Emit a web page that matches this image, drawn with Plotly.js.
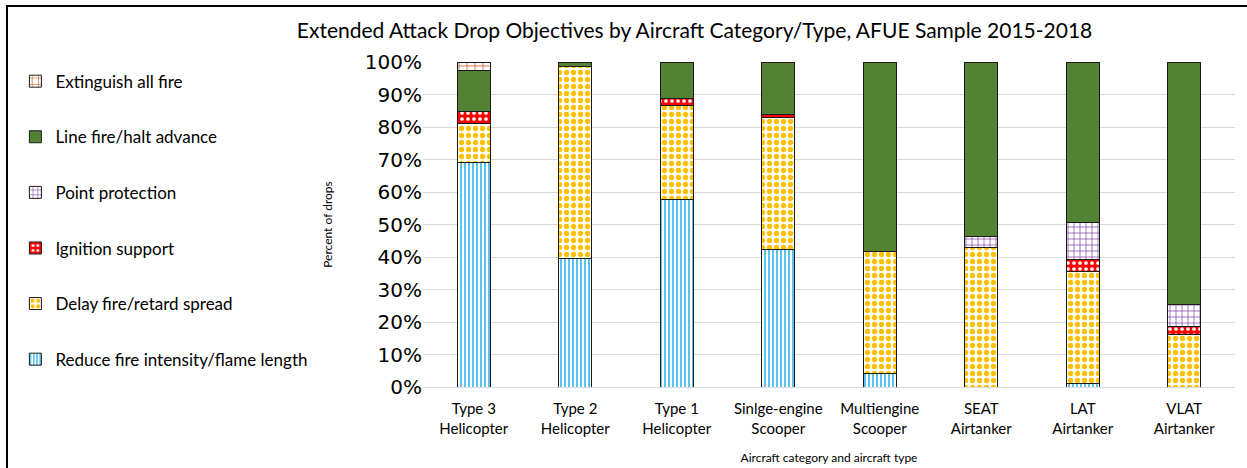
<!DOCTYPE html>
<html>
<head>
<meta charset="utf-8">
<script src="https://cdn.plot.ly/plotly-3.0.1.min.js"></script>
<style>
  html, body { margin: 0; padding: 0; background: #fff; }
  #wrap { position: relative; width: 1247px; height: 468px; }
  #chart { width: 1247px; height: 468px; }
  #frame { position: absolute; left: 6px; top: 5px; right: -4px; bottom: -4px; border-top: 2px solid #000; border-left: 2px solid #000; pointer-events: none; }
</style>
</head>
<body>
<div id="wrap"><div id="chart"></div><div id="frame"></div></div>
<script>
const categories = [
  "Type 3<br>Helicopter", "Type 2<br>Helicopter", "Type 1<br>Helicopter",
  "Sinlge-engine<br>Scooper", "Multiengine<br>Scooper", "SEAT<br>Airtanker",
  "LAT<br>Airtanker", "VLAT<br>Airtanker"
];
const reduceIntensity = [69.2, 39.4, 57.8, 42.2, 4.3, 0, 1.0, 0];
const delayFire       = [12.0, 59.2, 28.8, 40.6, 37.5, 42.8, 34.5, 16.1];
const ignitionSupport = [3.5, 0, 2.2, 0.9, 0, 0, 3.6, 2.6];
const pointProtection = [0, 0, 0, 0, 0, 3.4, 11.4, 6.6];
const lineFire        = [12.6, 1.4, 11.2, 16.3, 58.2, 53.8, 49.5, 74.7];
const extinguishAll   = [2.7, 0, 0, 0, 0, 0, 0, 0];
const yTickVals = [0, 10, 20, 30, 40, 50, 60, 70, 80, 90, 100];
const yTickText = ["0%", "10%", "20%", "30%", "40%", "50%", "60%", "70%", "80%", "90%", "100%"];

const outline = { color: '#1a1a1a', width: 1 };
function mk(name, vals, rank, marker) {
  return { type: 'bar', name: name, x: categories, y: vals, legendgroup: name, legendrank: rank,
           marker: Object.assign({ line: outline }, marker), hoverinfo: 'y+name' };
}
const traces = [
  mk('Reduce fire intensity/flame length', reduceIntensity, 6,
     { color: '#ffffff', pattern: { shape: '|', fgcolor: '#2fb4ea', bgcolor: '#ffffff', size: 4, solidity: 0.4 } }),
  mk('Delay fire/retard spread', delayFire, 5,
     { color: '#ffffff', pattern: { shape: '.', fgcolor: '#ffc000', bgcolor: '#ffffff', size: 7, solidity: 0.45 } }),
  mk('Ignition support', ignitionSupport, 4,
     { color: '#ff0000', pattern: { shape: '.', fgcolor: '#ffffff', bgcolor: '#ff0000', size: 6, solidity: 0.3 } }),
  mk('Point protection', pointProtection, 3,
     { color: '#ffffff', pattern: { shape: '+', fgcolor: '#7030a0', bgcolor: '#ffffff', size: 6, solidity: 0.2 } }),
  mk('Line fire/halt advance', lineFire, 2,
     { color: '#548235' }),
  mk('Extinguish all fire', extinguishAll, 1,
     { color: '#ffffff', pattern: { shape: '+', fgcolor: '#c55a11', bgcolor: '#ffffff', size: 8, solidity: 0.18 } })
];

const layout = {
  width: 1247, height: 468,
  margin: { l: 423, r: 12, t: 62, b: 81 },
  paper_bgcolor: '#ffffff', plot_bgcolor: '#ffffff',
  barmode: 'stack', bargap: 0.675,
  font: { family: 'Lato, "Open Sans", sans-serif', color: '#000' },
  title: { text: 'Extended Attack Drop Objectives by Aircraft Category/Type, AFUE Sample 2015-2018',
           font: { family: 'Lato, sans-serif', size: 21, color: '#000' },
           x: 0.557, xanchor: 'center', xref: 'container', y: 0.935, yanchor: 'middle', yref: 'container' },
  xaxis: {
    type: 'category', showgrid: false, showline: true, linecolor: '#d9d9d9', linewidth: 1,
    ticks: '', ticklabelstandoff: 8, tickfont: { family: 'Lato, sans-serif', size: 15, color: '#000' },
    title: { text: 'Aircraft category and aircraft type', font: { family: 'Lato, sans-serif', size: 12, color: '#000' }, standoff: 18 }
  },
  yaxis: {
    range: [0, 100], tickvals: yTickVals, ticktext: yTickText,
    showgrid: true, gridcolor: '#d9d9d9', gridwidth: 1, zeroline: false, showline: false,
    tickfont: { family: '"DejaVu Sans", sans-serif', size: 20, color: '#000' }, ticklen: 0, ticks: '',
    title: { text: 'Percent of drops', font: { family: 'Lato, sans-serif', size: 12, color: '#000' }, standoff: 29 }
  },
  legend: {
    x: -0.502, xanchor: 'left', y: 0.995, yanchor: 'top', xref: 'paper', yref: 'paper',
    traceorder: 'grouped', tracegroupgap: 30.5,
    font: { family: 'Lato, sans-serif', size: 17, color: '#000' },
    itemwidth: 30, bgcolor: 'rgba(0,0,0,0)'
  },
  showlegend: true
};

Plotly.newPlot('chart', traces, layout, { displayModeBar: false, staticPlot: true });
</script>
</body>
</html>
